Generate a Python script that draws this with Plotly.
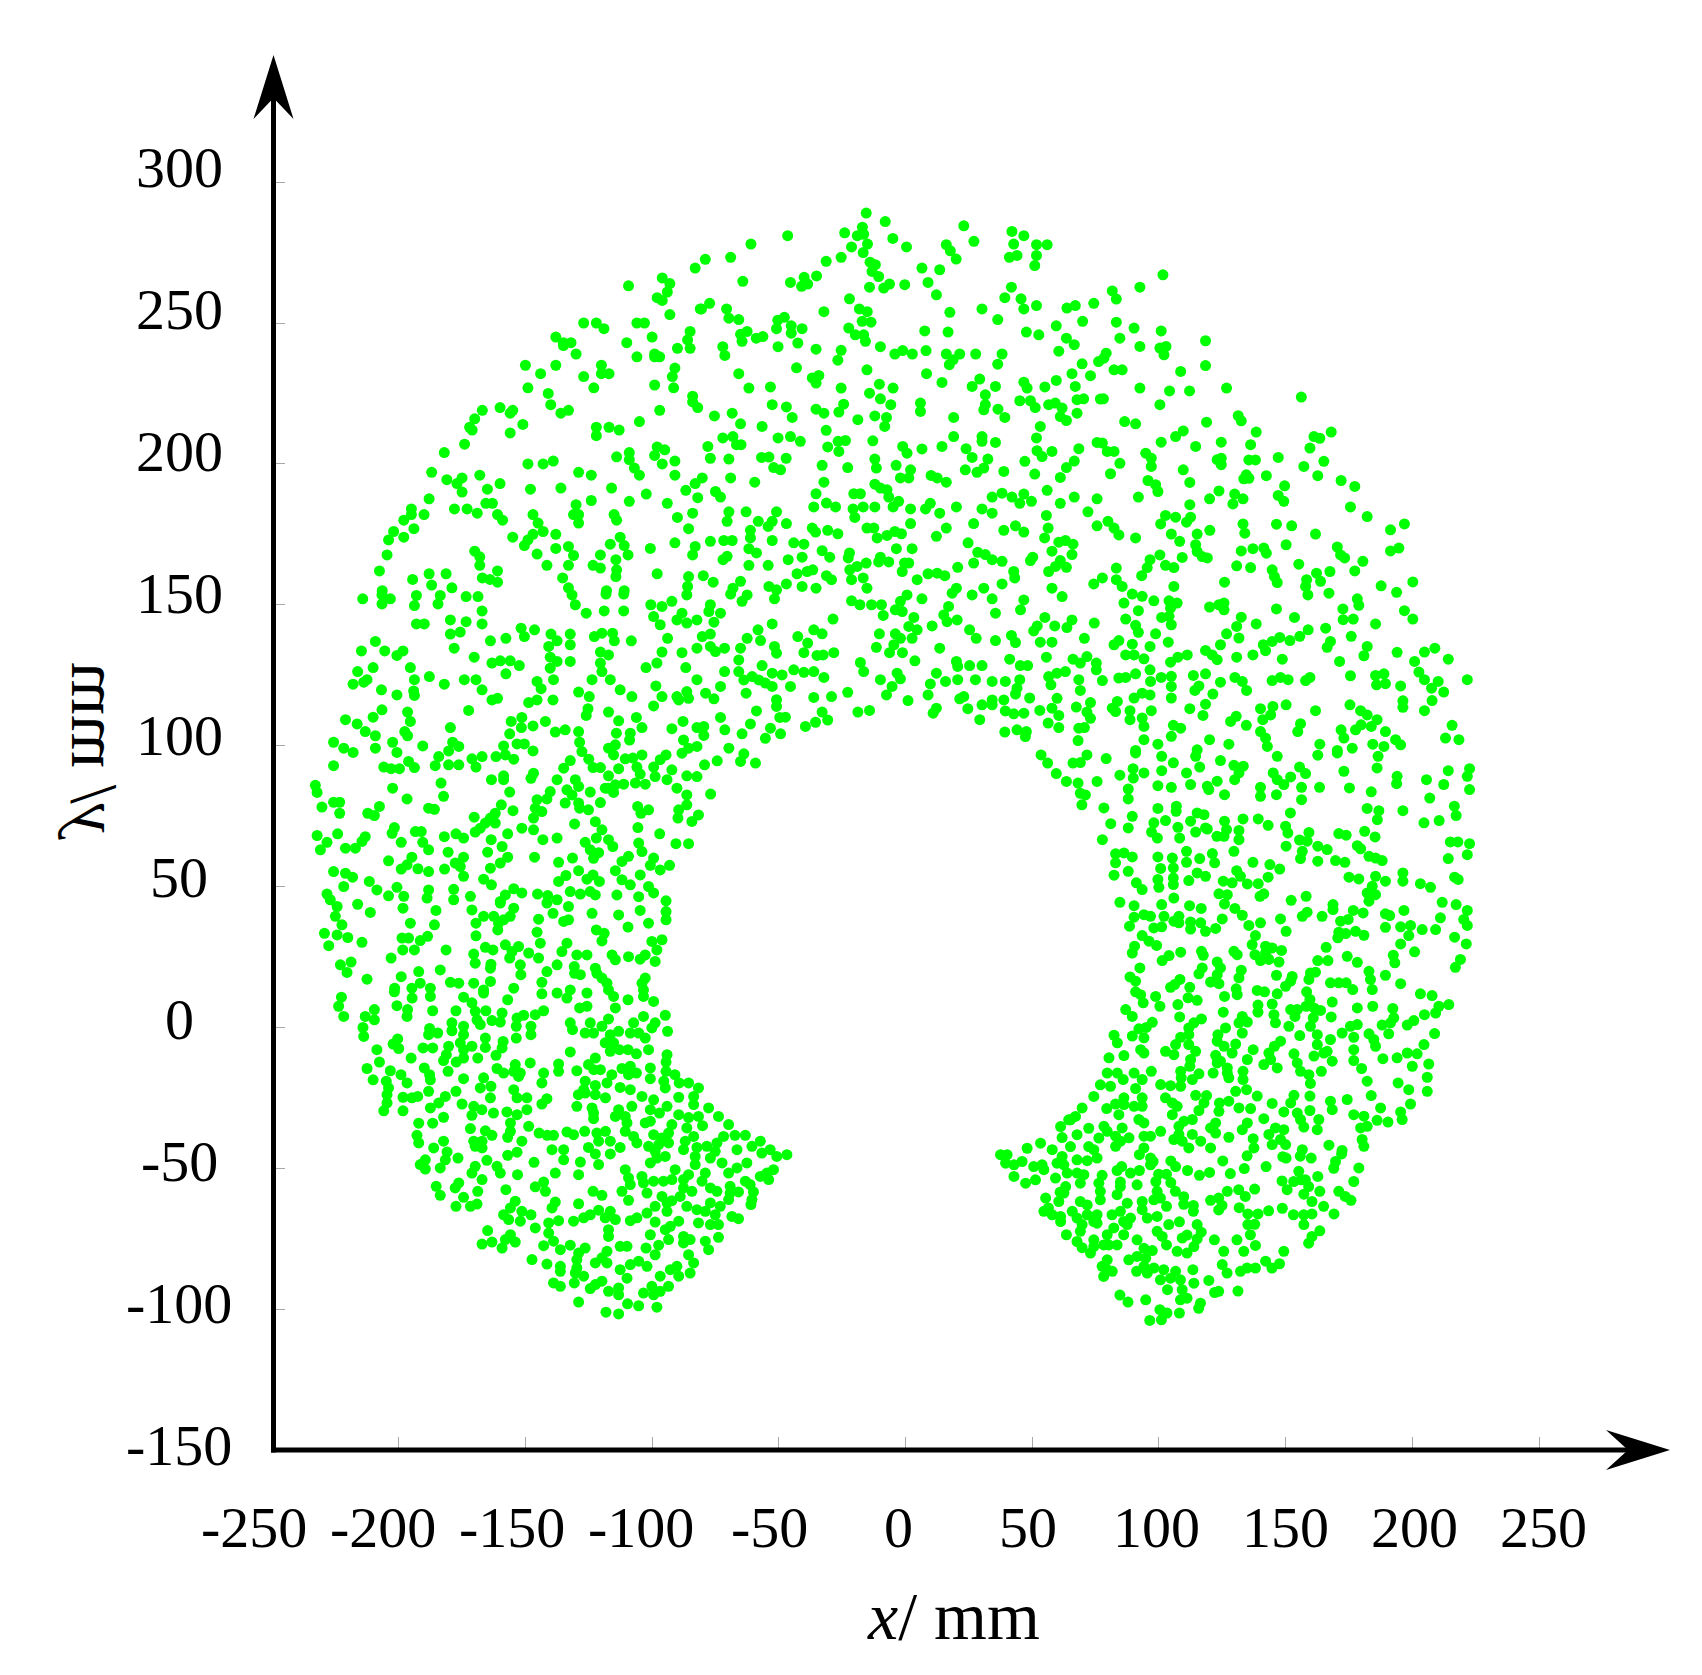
import plotly.graph_objects as go

FIG_W, FIG_H = 1702, 1675
GREEN = "#00FF00"
FONT = "Liberation Serif"

x_tick_vals = [-200, -150, -100, -50, 0, 50, 100, 150, 200, 250]
y_tick_vals = [-100, -50, 0, 50, 100, 150, 200, 250, 300]
x_tick_labels = ["-250", "-200", "-150", "-100", "-50", "0", "50", "100", "150", "200", "250"]
y_tick_labels = ["300", "250", "200", "150", "100", "50", "0", "-50", "-100", "-150"]

pts_nw = [(-109.3,263.2),(-96,266),(-93,264),(-94,261),(-83,269.5),(-98,259),(-96,258),(-93,253),(-81,255),(-106,250),(-103,250),(-127,250),(-122,250),(-119,248),(-110,243),(-100,245),(-138,245),(-135,243),(-132,243),(-135,242),(-130,239),(-106,238),(-99,239),(-97,238),(-99,238),(-90,241),(-85,247),(-86,244),(-85,241),(-150,235),(-144,232),(-138,235),(-120,235),(-120,232),(-117,232),(-127,231),(-123,227),(-149,227),(-141,225),(-91,234),(-92,231),(-99,228),(-91.5,227),(-84,224),(-84,222),(-82,220),(-140,221),(-136,218),(-133,219),(-97,219),(-105,215),(-167,219),(-160,220),(-155,219),(-156,218),(-151,214),(-156,211),(-170,216),(-172,213),(-171,212),(-122,213),(-122,210),(-117,213),(-113,212),(-174,207),(-182,204),(-109,204),(-109,201.5),(-107,198.5),(-105,196),(-98,206),(-99,203),(-95,205),(-96,200),(-91,201),(-114,202.5),(-149,200),(-143,200),(-139,201),(-129,197),(-124,196),(-91,196),(-187,197),(-168,196),(-181,194.4),(-175,195),(-177,193),(-175,190),(-160,193),(-165,191),(-148,191),(-136,191.4),(-116,191.4),(-102.3,189.3),(-86.7,190.6),(-83,193),(-82,188),(-188,187.6),(-165.6,186),(-163,186),(-124,187),(-109,186.7),(-94,186),(-130,185.5),(-131,182),(-129,182),(-129,179),(-147,182),(-145,179),(-143,176),(-115,182),(-114,180),(-90,181),(-84,182.5),(-85.6,177),(-195,184),(-195,182),(-190,182),(-178,184),(-173,184),(-169,182.5),(-161,182),(-159,180),(-198,180),(-194,177),(-202,176),(-204,173),(-198,174),(-155,174),(-147,175),(-149,173),(-150.4,171),(-138,175),(-138,170),(-112.6,174),(-111,171),(-116.5,171.5),(-91,172),(-83,170.7),(-84,167.7),(-100.7,170),(-170,169),(-168,167),(-168,164),(-145.4,168),(-133,170.7),(-131,167.5),(-133,164),(-120.4,167.7),(-123.3,164),(-120.4,163),(-114.3,166),(-114,162.4),(-114.3,160),(-109.5,167.7),(-141.5,164),(-204.6,167.7),(-207.6,162),(-188,161),(-181.3,161),(-194.5,159),(-161,162),(-167,159.5),(-164,159),(-161,158),(-135.3,159.5),(-98,161),(-85.6,160),(-187,157),(-179,156),(-133,156),(-206.5,155),(-118,155),(-111,155),(-86,156.5)]

pts_n = [(-15.5,289),(-8,286),(23,284.5),(42,282.5),(46.7,281),(42.7,278),(-46.5,281),(-61,278),(-24,282),(-17,284),(-19,281),(-16.5,281.5),(-5,280),(0.4,277),(-21.3,277),(-15,278),(-16.7,275),(16.1,277.8),(17.7,275.6),(20,272.7),(27,279),(51.7,277.8),(55.9,277.8),(51.7,274),(51,270.4),(44,274),(41,273.3),(-79,272.6),(-69,273.3),(-31.3,271.9),(-25.4,273.3),(-14,271.6),(-11.9,270.7),(-13.2,268.3),(-10.6,266.5),(6.5,269.5),(13.5,268.9),(-64.2,264.8),(-45.4,264.4),(-40,266.2),(-35.1,266.7),(-41,263),(-38.6,263.8),(-14.2,262.7),(-8.6,262.4),(-6.3,263.8),(-0.3,263.6),(8.9,264.4),(12.2,260),(41.8,262.7),(39.2,259),(45.6,258.6),(46.7,255),(51.7,256.2),(-22.1,258.6),(-77.3,257),(-80.5,255),(-70.6,255),(-69.7,251.7),(-65.8,251.2),(-32.2,254),(-18.2,255),(-15.1,254),(-17.1,250.6),(-13.6,250.3),(17.5,253.8),(30.2,255),(36.4,251.2),(63.7,255.3),(67,256.2),(74.3,257),(69.9,250.6),(-47.8,252),(-50.4,251),(-50.9,248),(-45.1,249),(-40.8,248),(-45.1,246.4),(-42.5,242.9),(-22.4,248.2),(-19.8,245.8),(-16.5,245.8),(-15.8,243.5),(7.6,247.2),(16.8,246.8),(47.7,246.8),(52.6,245.8),(59.5,249),(63.5,244.6),(66.6,242.3),(60.5,240),(-62.5,247),(-65.1,246),(-64.5,243.5),(-58.9,244.6),(-56.3,245.2),(-50.3,241.6),(-72.1,241.6),(-71.3,238.5),(-35.3,240.7),(-25.4,240.3),(-26.7,236.8),(-9.9,241.6),(-4.2,239),(-1.1,240.2),(2.7,239),(8.1,240.2),(16.1,239),(21.4,239),(18.8,237),(17.3,235.2),(27.7,239),(38.1,239),(36.4,235.4),(69.7,235.5),(76.2,236.3),(-43,234.1),(-15.2,233.4),(-65.8,232),(8.3,232),(-34.2,231.4),(-36.8,230.5),(-35.3,228.7),(14.4,228.9),(29.3,230.1),(26.3,227.5),(35.5,227.5),(31.5,224.5),(46.7,229),(48,226.9),(55,227.3),(59.5,229.6),(65.7,232),(73,231.3),(67,227.5),(-61.8,226.9),(-53.3,227.3),(-25.4,226.9),(-10.3,228.3),(-4.9,226.9),(-14.2,225.1),(-9.9,223.1),(-5.8,221),(5.9,221.6),(5.9,218.6),(31.5,221),(30.9,219.2),(36.5,219.4),(39.2,216.5),(45.1,222.4),(49.3,222.4),(51.2,220),(56.5,221),(59.1,221.6),(61.8,219.8),(61.1,216.8),(63.5,215.4),(67.7,222.8),(70.3,223.1),(67.7,218),(76.9,223),(-52.6,221),(-47,220.2),(-44.7,216.5),(-35.3,219.4),(-32.2,218),(-24.4,221.2),(-26.3,218.4),(-18.8,215.7),(-12.1,217),(-7.5,216.5),(-8.2,213.3),(19,216.5),(-75.4,217),(-68.4,218),(-65.1,214.2),(-56.6,213.3),(-31.3,211.9),(53.2,213.3),(51.7,209.2),(-72.1,209.2),(-68.1,209.7),(-66.7,206.8),(-64.9,206.8),(-50.3,209.2),(-45.4,209.7),(-41.5,208),(-26.6,208),(-23.7,208.3),(-30.7,206),(-26.3,204.4),(-12.9,208.2),(19,209.7),(30.2,209.7),(30.2,208),(35.5,207.6),(75.6,207.6),(-78,206.2),(-77,202),(-69.7,201.7),(-1.1,206.2),(0.6,203.8),(6.5,205.3),(14.4,206.2),(23.9,205.4),(26.3,202.3),(51.9,204.7),(53.9,202.6),(57.8,204.4),(68.4,205.4),(-56.8,202.3),(-53.9,202.4),(-47.1,202),(-12.1,201.7),(-11.5,198.5),(-32.9,199.5),(-22.8,198.7),(-52,198.7),(-49.3,197.9),(-3.7,199.5),(2,197.9),(32.5,201.7),(30.9,198.5),(23.6,197.9),(28.2,197),(38.8,197.3),(47.1,200.9),(51,196.4),(66.6,201),(63.5,198.7),(61.1,195.2),(-69,195),(-80.2,195),(-59.5,193.5),(-32.2,193.5),(-2,195),(1.3,195),(10.1,195.9),(12.5,195),(16.1,193.5),(-12.1,192.8),(-9.9,191.4),(-7.3,190.8),(-75,190.2),(-73,188.2),(-35.3,189.4),(-20.4,189.4),(-17.8,189.4),(-6.6,188.2),(34.2,188.2),(38.1,189.6),(42,188.2),(46.7,189.3),(55.9,190.6),(66.6,188.2),(75.6,187.6),(-31.2,186.1),(-27.6,184.7),(-36.2,184.7),(-16.7,184.7),(-20.7,184),(-12.1,184.7),(-2.7,186.7),(-4.9,184.7),(2,184),(9.8,186),(7.9,184),(20.1,184.7),(45.1,186),(49.7,186.7),(61.1,186),(-69.7,183),(-62.9,183),(-50.9,183),(-20,181),(13.5,182.5),(30.2,184),(34.2,182.5),(72,183),(55.6,181.7),(-70.4,179.6),(-58.1,179.6),(-52.6,179.6),(-54.2,177.8),(-47,178.8),(2,178.8),(26.9,178.8),(-15.2,177.2),(-12.5,177.2),(-36.8,177.2),(-35.5,175.8),(-30.7,176.4),(-26.7,175.2),(16.1,177.2),(38.8,176.4),(43.4,178),(46.7,175.8),(75.6,178),(56.3,177.2),(-61.2,176.4),(-11.2,173.7),(-7.3,174.6),(-4.2,176),(-1.6,175.2),(12.2,174.3),(54.9,173.7),(-77,172.5),(-71.7,172.8),(-68.4,172.8),(-61.2,173.7),(-52.6,172.8),(-44.1,172),(-40.1,171.5),(24.7,172),(60.5,172.2),(63.1,172.8),(66.1,171.5),(-61.8,169.9),(-58.8,168.4),(-32.9,169.2),(-29.9,166.9),(-22.1,168.4),(-22.6,166.6),(-3.6,169.9),(2.6,169.9),(28.5,168.6),(31.5,167.8),(34.2,166),(38.1,165.4),(57.8,169),(65.7,167.8),(-70.4,167.2),(-72,166),(-46.3,166),(-40.8,166.9),(-9.9,166.9),(-10.6,165.2),(-6.6,165.2),(50.2,166.9),(49.3,165.7),(-61.8,164),(-54.2,164),(-19.1,163.6),(-15.5,164.8),(-0.4,164.8),(1.3,164.8),(26.9,164.8),(61.1,165.7),(59.2,163.6),(20.6,163.3),(63.5,163.3),(-22,162.4),(-1.3,161.8),(-42.8,161),(-38.8,161.8),(-36.6,162.4),(8.9,161),(12.5,161.2),(15.5,160.3),(56.5,161.8),(42.7,161.8),(43.1,159.5),(-79.8,160.3),(-75.9,158),(-65.1,158.3),(-31.2,160.3),(-29.2,158.9),(-21.3,158.9),(-16.7,159.5),(4.6,158.9),(74.3,157.4),(-53.9,156.5),(-47,157.4),(-40.8,156.5),(-35.3,155.9),(-68.1,155.9),(-50.9,155.3),(-15.2,155.9),(20.1,155.9),(30.9,155.9),(38.1,157.4),(57.8,155.9)]

pts_ne_top = [(101.6,267.1),(92.5,262.7),(81.6,261.4),(83.2,258.5),(83.2,250.3),(90.2,248.2),(100.9,247.2),(118.4,243.7),(84.6,244.6),(92.5,241.7),(100.4,241.1),(102.8,241.7),(79.2,239.3)]

pts_ne = [(78.3,237.5),(102,238.7),(82.3,233.4),(85.5,233.4),(108.6,232.8),(118.4,234.9),(92.5,226.9),(104.2,225.9),(112.1,225.9),(126.7,226.9),(156.2,223.7),(78.1,223.1),(100.4,221),(86.5,215),(90.8,214.2),(118.8,214.8),(131.3,217.1),(132.5,215.3),(138.4,211.3),(161.2,209.7),(163.5,209.1),(168,211.3),(109.6,211.7),(106.6,209.7),(100.9,207.7),(124.6,207.7),(136.2,206.8),(114.5,206.2),(159.6,205.6),(77.7,207.4),(79.6,204.4),(82.3,204.4),(94.8,203.8),(97,202),(123,201.5),(124.6,202),(124.6,199.7),(135.5,201.4),(138.1,201.4),(147.1,202.3),(165.1,200.9),(84.6,200.2),(97,199.1),(157.2,199.1),(109.6,197.9),(80.9,196.5),(162.7,195.8),(134.5,196.1),(133.5,194.7),(135.5,194.9),(142.4,195.8),(171.9,194.1),(177.3,192),(95.7,194.1),(98.7,192.6),(99.6,190.2),(112.2,193.4),(149.6,192.2),(123.7,190.4),(147.1,188.8),(129.9,189.3),(133.2,187.6),(129.2,185.8),(149.3,186.7),(91.9,188.2),(120,187.6),(175.6,184.7),(112.2,185.5),(182.2,181.3),(102.6,181.7),(106.6,181.1),(112.5,181.1),(110.9,179.3),(100.7,178.7),(79.9,179.6),(82.3,177.2),(84.2,174.8),(133.2,178.7),(133.9,175.4),(146.4,178.6),(152.4,178),(161.8,175.1),(196.9,178.7),(191.4,176.6),(120.1,176.4),(115.1,175.1),(90.8,173.7),(104.9,175.1),(108.2,172.5),(150.2,171.3),(170.4,170.5),(194.7,170.1),(191.4,169.1),(114.5,171.3),(115.1,168.9),(117.1,167.1),(119.1,166.6),(132.5,169.1),(137.1,169.9),(141.4,170.1),(142.4,168.3),(171.7,167.7),(173.3,166.6),(100.4,167.7),(96.5,166),(109.2,166.8),(95.4,163.2),(102.6,164),(105.9,163.2),(180.5,165.4),(155.2,164.4),(130.7,163.8),(136.2,163.2),(83.2,163),(144.7,162.4),(177.3,162),(162.2,161.2),(167.5,161.8),(93.2,160.3),(77.7,159.5),(83.2,158.9),(145.6,160),(158.3,158.9),(163.8,158.3),(146.7,157.9),(125.9,158),(85.5,156.5),(105.9,156.5),(187.7,156.7),(200.2,158.1),(193.8,154.4),(157.9,156.5),(158.8,153.5),(167.1,154.1),(89.5,153.8),(93.4,153),(86.2,150.6),(98,151.4),(104,151.4),(107.2,150.6),(178.3,152.1),(178.9,149.8),(125.7,150.6),(123.7,150),(125.7,148.2),(120,149.2),(91.9,147.9),(104.6,148.8),(146.4,148.5),(172.6,148.5),(196.9,147.9),(200.2,144.9),(86.9,144.9),(101.1,145.5),(104,145.9),(132.5,145.6),(153.5,145.5),(172.7,144.7),(176.7,144.9),(138.4,143.2),(104.9,142.9),(130.7,142.3),(185.5,143.2),(90.8,142.7),(91.9,140.2),(165.8,141.7),(158.9,141.1),(98.7,139.7),(126.7,139.7),(155.6,138.8),(175.9,138.8),(131.6,138.2),(147.7,138.4),(151.7,137.3),(144.7,137),(103.7,136.7),(84.2,137.3),(82.3,135.8),(89.5,136),(96.5,135.2),(124.3,135.8),(141.2,135.8),(167.7,137),(166.4,134.9),(182.2,135.2),(208.9,134.6),(204.8,133.2),(194,133.1),(142.1,133.7),(118.4,133.8),(86.9,132.2),(90.2,132.2),(121,132.2),(123,130.5),(111.2,132.2),(107.5,131.4),(104.6,129.6),(94.1,130.8),(130.7,131.4),(137.1,132.2),(148.7,130.7),(180.9,131.9),(171.3,129.9),(200.9,129.9),(214.2,130.7),(96.5,126.9),(202.6,126.1),(90.8,125.5),(84.2,124),(86.9,124.2),(113.6,124.9),(118.4,125.5),(175.6,124.8),(130,124.2),(132.9,122.8),(148,124.2),(144.7,123.1),(151,123.4),(159.6,124.2),(157.9,123.1),(188.8,125.5),(185.5,124.9),(77.7,123.1),(96.7,122.8),(100.9,124.2),(104.9,124.6),(104.9,121),(221.7,123.4),(124.3,122.5),(185.9,121.6),(189.4,122),(204.8,123.4),(210.2,122.8),(195.4,121.2),(115.8,121.2),(114.2,119.6),(207.6,120.4),(212.4,119),(134.6,119.6),(121.3,118.3),(93.4,118.6),(96.5,118),(90.2,116.9),(104.9,116.9),(207.8,116),(196.3,115.9),(83.6,115.7),(81.6,113.3),(82.9,112.1),(118.4,114.7),(150.2,114.5),(175.4,114.5),(196.3,113.6),(140.1,113.1),(145,113.9),(112.2,113.1),(88.6,112.4),(97,112.4),(161.8,112.4),(204.8,112.4),(179.6,112.4),(182.2,110.9),(130.5,110.4),(128.3,108.6),(144.1,110.9),(141,109.2),(117.4,110.7),(88.6,109.2),(93.4,109.8),(94.1,106.8),(186.1,109.2),(183.8,106.8),(179.8,107.4),(177.6,105.6),(155.9,107.8),(154.8,105),(171.9,105.6),(173,102.7),(189.4,105),(134.5,107.2),(215.7,107.2),(105.7,107.2),(108.6,106.2),(140.1,105),(104.9,103.3),(213.1,102.7),(218.4,102.1),(193.4,102.1),(195.4,100.3),(94.1,102.1),(142.1,102.7),(120,102.1),(127.6,100.5),(99.6,100.5),(163.5,100.5),(184.4,100.5),(142.8,99.7),(115.1,98.5),(188.8,99.7),(170.4,98.3),(90.8,98.3),(176.3,99.1)]

pts_w = [(-214.2,152.1),(-206.6,153.5),(-203.3,152.1),(-206.6,150.3),(-193,153.3),(-193.8,149.7),(-183.6,153.3),(-184.5,150.3),(-173.4,152.9),(-168.7,152.9),(-167.1,147.8),(-167.1,143.2),(-193,143.2),(-189.9,143.2),(-179.6,144.6),(-173.4,144),(-175.7,140.3),(-179.6,139.6),(-178.1,134.6),(-163.8,137.2),(-157.7,138.1),(-151.7,141.7),(-150.4,138.7),(-146.4,141.1),(-139.9,139.6),(-137.5,137.2),(-140.8,135.2),(-132.3,139.6),(-132.3,135.8),(-122.8,138.7),(-119.8,139.9),(-115.6,139.9),(-114.9,137.2),(-108.2,137.2),(-93.9,138.1),(-131.6,153.5),(-130.3,150),(-126,147),(-118.9,147.8),(-111.2,147.8),(-118.2,153.8),(-111.2,153.8),(-100.5,150),(-96.1,149.4),(-99.4,145.8),(-96.8,142.9),(-92.2,151.2),(-86.3,153.5),(-90.2,144.6),(-88.2,147),(-86.3,143.5),(-82.3,144.6),(-209.2,137),(-214.7,133.6),(-205.5,133.6),(-200.7,132),(-198.3,133.6),(-170.2,131.4),(-120.4,133.2),(-117.2,132.2),(-120.4,129.3),(-119.8,126.3),(-140.2,131.4),(-137.5,129.9),(-140.2,127.5),(-138.9,123.4),(-132.3,129.9),(-96.1,133.2),(-98.1,129.3),(-102.4,127.7),(-88.2,133),(-86.7,127.7),(-82.3,134.6),(-216.2,126.3),(-210.1,127.7),(-195.4,127.7),(-163.2,129.3),(-159.9,130.1),(-156,130.1),(-152.4,128.4),(-157.7,125.5),(-218,121.8),(-212.5,123.4),(-213.8,122.5),(-193.8,123.4),(-187.9,124.5),(-182,121.8),(-174.1,123.4),(-169.5,123.4),(-167.1,119.8),(-145.4,122.8),(-143.8,120.2),(-123.7,123.4),(-116.5,123.4),(-112.6,119.8),(-129,119),(-124.8,117.4),(-108,117.4),(-98.5,121.2),(-96.1,117.4),(-99.4,114.1),(-90.2,117.4),(-86.3,119.2),(-85.6,116.8),(-89.5,116.2),(-82.3,123.4),(-206.8,119.8),(-200.7,118),(-194.1,119.4),(-193.8,117.8),(-163.2,116.2),(-161,116.8),(-148.7,115.3),(-145.4,116.2),(-139.1,116.2),(-125.3,113.1),(-126,110.7),(-117.2,111.9),(-113.2,108.8),(-106.2,110),(-104,106.4),(-206.6,112.7),(-210.1,110.1),(-221,109.2),(-216.4,107.7),(-196.5,111.9),(-195.4,108.6),(-172.4,112.5),(-179.6,106.4),(-155.6,108.6),(-151.4,110),(-151.6,106.4),(-147,107),(-142.1,108.6),(-138.2,104.8),(-134.3,105.6),(-129,105),(-128.6,101.2),(-127.7,97.9),(-87.8,108.6),(-92.2,106),(-82.3,106.4),(-213.2,105),(-209.2,103.5),(-197.6,105),(-196.5,103.5),(-156.2,104.2),(-114.1,104.4),(-108.6,104.4),(-108.9,102),(-225.7,101.2),(-221.7,99.1),(-218,97.6),(-202.4,101.2),(-209.2,99.1),(-200.7,97.6),(-190.5,99.9),(-178.7,101.2),(-180.3,98.1),(-176.3,99.7),(-158.6,99.9),(-153.3,100.6),(-150.4,100.6),(-147,98.1),(-117.2,99.1),(-114.5,100.3),(-115.2,96.7),(-87.6,102),(-88.2,97.3),(-85.6,99.1),(-82.3,99.7),(-94.5,96.7),(-96.8,95),(-104,96.7),(-110.6,95.3),(-107.6,95.6),(-167.1,96.1),(-171.1,95.3),(-169.5,92.4),(-184.2,96.1),(-185.6,92.9),(-180.3,93.2),(-176.3,93.2),(-161.6,96.1),(-157.9,96.7),(-154.6,95.2),(-196.1,94.4),(-193.8,92.2),(-225.7,92.9),(-205.9,92.4),(-203,91.8),(-199.7,91.8),(-132.3,94.7),(-134.9,92),(-137.5,87.9),(-125,95.2),(-123.3,92.2),(-120.4,92.2),(-113.2,91.8),(-117.2,89.3),(-106,92.4),(-104.7,89.9),(-99.4,92.4),(-98.8,89),(-92.2,91.4),(-94.1,87.9),(-86.3,89.3),(-82.3,89),(-158.6,89.3),(-163.4,87.9),(-158.6,87.9),(-146.8,90.2),(-147.8,88.4),(-130.3,87.9),(-129,85.5),(-117.4,84.9),(-114.5,86.1),(-111.2,86.3),(-118.5,84.9),(-106.6,86.7),(-102.7,86.3),(-90.2,84.9),(-232.9,85.9),(-232.2,83.4),(-202.4,84.9),(-183.3,86.7),(-182.3,82),(-156.2,83.5),(-133.6,84.3),(-131.6,82.5),(-124.4,83.5),(-115.2,83.4),(-140.2,83.7),(-141.5,81.1),(-86.3,82.5),(-230.3,78.2),(-225.7,79.9),(-223.3,79.9),(-223.3,76),(-196.7,81.1),(-207.6,78.4),(-209.6,75.2),(-212.2,76),(-188.2,77.8),(-185.9,77.4),(-159.5,79),(-154.9,76.9),(-145.4,80.8),(-146.1,77.8),(-143.5,76.6),(-134.3,79.6),(-129,79.6),(-128.6,77.8),(-125.1,77.2),(-120.4,79.8),(-105.7,78.4),(-101.4,77.2),(-104.4,76),(-89.5,77.2),(-89.8,74.3),(-86.3,79),(-84.3,73.1),(-81.7,75.4),(-170.2,74.6),(-161.9,76),(-163.8,74.3),(-165.8,72.5),(-161.9,72.5),(-167.8,70.7),(-169.8,69.3),(-146.8,74.3),(-130.6,72.2),(-122.4,73),(-151.4,70.7),(-146.8,70.1),(-119.8,70.1),(-105.6,70.9),(-201.7,70.9),(-202.6,68.9),(-193.4,69.5),(-191.1,69.5),(-177.4,68.7),(-174.4,67.2),(-182,67.7),(-157,68.7),(-232.2,68.1),(-224.1,68.7),(-213.2,67.7),(-214.5,66),(-217.1,63.6),(-221,63.6),(-228.3,65.7),(-230.9,63),(-97,68.7),(-137.5,67.2),(-143.1,66.6),(-122,67.2),(-117.2,66.6),(-126.4,65.7),(-115.5,64.2),(-163.5,66.6),(-159.2,64.2),(-199,65.7),(-190.5,65.7),(-188.2,63),(-90.6,65.2),(-85.6,65.2),(-105.3,65.4),(-104,62.4),(-124.4,63),(-123.1,60),(-121.1,62),(-164.9,62.2),(-180.5,62.2),(-146.4,60.4),(-157,60.4),(-159.9,58.3),(-194.8,60.4),(-174.4,60.4),(-204,59.1),(-196.7,57.7),(-177.7,58.3),(-175.7,57.1),(-131.4,60.1),(-136.9,58.6),(-109.3,60.7),(-111.9,58.9),(-99.4,60.1),(-100.7,57.5),(-93.1,57.5),(-96.8,55.9),(-192.4,56.3),(-188.2,55.3),(-199,56.2),(-181.9,56.2),(-129,55.6),(-114.5,55.6),(-225.7,55.3),(-221,54.7),(-218.2,53.3),(-163.8,56.5),(-166.5,52.6),(-163.4,50.6),(-174.4,53.6),(-134,53.9),(-136.9,51.8),(-125.7,52.6),(-123.3,54.1),(-120.8,51.8),(-111.9,52.4),(-104.7,54.1),(-101.4,50),(-211.6,51.8),(-221.7,50),(-208.6,48.8),(-200.7,49.7),(-188.2,48.8),(-178.3,49),(-178.3,45.3),(-154.6,49.2),(-157.9,47),(-159.9,44.7),(-151.4,47.7),(-145.2,47.3),(-141.2,46.8),(-137.5,45.3),(-132.3,48.2),(-128.3,47.3),(-124.4,48.2),(-122.4,47),(-113.9,47),(-108.6,50.6),(-105.3,46.4),(-99.4,47.7),(-228.3,47.3),(-227,45.3),(-204,46.7),(-198,46.5),(-188.8,45.9),(-171.7,46.5),(-198.3,42.3),(-216.2,43.7),(-211.2,40.8),(-224.3,42.9),(-225,39.4),(-185.3,41.5),(-171.1,41.7),(-159.9,44.1),(-154.6,42.3),(-141.5,44.1),(-139.1,40.5),(-133,42.9),(-123.7,40.5),(-113.2,39.9),(-104.7,41.5),(-94.5,44.9),(-94.5,41.1),(-94.5,38.2),(-166.5,39.4),(-162.5,39.4),(-156,39.4),(-158.6,38.2),(-169.5,37),(-160.6,37),(-144.8,38.4),(-134.9,37.6),(-133,38.2),(-222.4,36.4),(-195.4,37),(-185.9,36.4),(-109.5,35.6),(-101.4,37),(-229.3,33.4),(-224.3,32.8),(-220.1,31.9),(-214.5,30.2),(-227.6,29),(-160.9,34.6),(-145.4,33.8),(-169.5,32.5),(-122,34.6),(-118.9,33.4),(-119.8,30.7),(-198.7,31.7),(-196.1,31.7),(-188.6,32.3),(-191.5,30.8),(-100.1,30.5),(-96.1,31.1),(-98.1,27.5),(-157.9,29.3),(-152.7,28.7),(-144.1,29.9),(-133.6,29.9),(-165.8,28.4),(-162.8,27.5),(-198.4,27.5),(-193.8,27.5),(-181.3,27.5),(-155.3,26.9),(-148.7,26.4),(-135.6,26.9),(-129.7,25.7),(-125.7,25.7),(-115.8,25.7),(-109.3,25.1),(-102.7,25.7),(-203,24.6),(-170.4,26),(-169.8,22.8),(-156.2,24.6),(-144.8,24.6),(-114.5,24),(-104.7,24.2),(-98.8,23.4),(-223,22.2),(-218.8,23.2),(-220.4,19.5),(-163.6,22.4),(-163.8,21),(-152,22.2),(-137.5,22.2),(-130.7,21.6),(-122.4,21),(-192.1,19.8),(-183.6,20.4),(-141.5,19.8),(-130.6,19.2),(-121.8,19.2),(-119.8,17.5),(-199,18),(-212.5,17.1),(-151.8,18.7),(-128.3,18.7),(-179.6,16),(-176.3,15.7),(-170.4,15.7),(-163.8,16.3),(-143.5,16),(-102.7,17.5),(-104,15.7),(-117.8,15.7),(-201.6,13.9),(-194.8,13.9),(-191.5,15.7),(-187.5,13.9),(-166.5,13.3),(-154.6,13.9),(-132.3,13.3),(-117.2,13.3),(-103.4,13.3)]

pts_arch = [(-69,153.8),(-64.5,151.2),(-62.5,153.5),(-51.7,152.1),(-77,150),(-73,147),(-77.6,147.6),(-75.6,143.8),(-52.6,143.2),(-28.6,144.9),(-58.2,141.1),(-62.5,138.1),(-57.2,137.3),(-36.2,141.1),(-32.9,139.7),(-42.5,138.7),(-77,139.6),(-80.2,138.7),(-65.1,134.6),(-77,135.2),(-75,133.4),(-71.4,134.6),(-38.6,136.4),(-40.1,133),(-51.7,135.2),(-50.9,132.8),(-28.3,133),(-34.9,132),(-32.5,132.2),(-65.8,130.4),(-65.8,126.3),(-56.6,128.4),(-71.4,126.3),(-52.6,125.7),(-48.7,125.1),(-44.1,126.9),(-40.1,126),(-36.2,126.3),(-63.8,123.3),(-60.5,124.5),(-57.9,123.3),(-55.3,122.2),(-52.6,121),(-32.2,124.2),(-45.4,121),(-73,121),(-62.9,118.6),(-78.9,118.6),(-75.6,116.6),(-50.9,116.3),(-50.9,113.9),(-36.2,117.1),(-29.2,117.4),(-22.8,118.9),(-58.8,112.3),(-73,110),(-32.9,111.9),(-49.6,110),(-47.4,110.1),(-30.7,109.1),(-61.2,107.7),(-35.5,108.3),(-39.5,106.8),(-79.6,106.8),(-71.3,105.6),(-64.5,104.2),(-53.3,106.2),(-55.3,102.6),(-49.3,104.2),(-79.6,103.6),(-69.7,99.1),(-63.8,97.1),(-65.1,94.4),(-59.2,93.8),(-74.3,94.6),(-79.3,93.2),(-76.9,82.8),(-21.3,151.4),(-18,150),(-13.4,150),(-9.5,150),(-8.8,146.2),(-4,148.2),(-2,151.2),(0.6,153.5),(6.5,152.1),(-1.3,147.6),(3.3,145.5),(1.3,142.3),(4.6,141.1),(2.6,138.1),(-10.3,139.7),(-4,139.7),(-2,138.1),(-4.6,135.8),(-11.5,134.9),(-6.3,133),(-1.2,133),(3.7,130.1),(13.5,134.6),(10.5,142.5),(15.1,146.4),(17,149.4),(16.4,144),(20.4,144.6),(25.3,141.1),(27.9,138.1),(35.5,137.3),(35.5,147),(26.3,153.5),(34.2,152.1),(18.4,154.1),(46.7,151.7),(45.4,148.2),(55,145.5),(52,142.5),(58.9,142.5),(50.6,140.7),(63.7,141.9),(65.7,144.6),(74.5,143.5),(70.6,138.1),(61.8,152.9),(41.8,139.1),(43.4,136.6),(53.2,136.7),(57.8,136.7),(55.6,131.4),(41.1,130.7),(20.1,129.9),(20.6,128.1),(25.3,128.4),(30.2,128.4),(45.3,128.4),(48.2,128.4),(66.1,130.7),(69,129.3),(71.6,131.6),(75.3,129.3),(75.3,126.9),(-17.8,129.5),(-16.5,126.3),(12.2,125.7),(9.8,121.9),(15.8,122.8),(20.6,123.4),(27.6,123.4),(34.2,122.8),(39.4,122.8),(45.1,123.4),(44,120.4),(43.4,118.3),(63.1,126.3),(59.8,125.7),(56.5,124.5),(57.4,121.6),(68.4,123.4),(69,119.6),(-3.3,125.7),(-2,123.7),(-9.9,123.4),(-5.3,121),(-7.5,118),(1,116),(8.9,118),(23,117.4),(21.4,116.6),(34.2,116.2),(34.2,114.5),(38.8,116.2),(49,116.9),(59.8,116.8),(73,115.3),(30.2,114.5),(24.6,113.1),(12.2,113.3),(10.9,111.5),(39.4,112.3),(42.7,111.3),(46.7,111.5),(53,112.5),(57.8,113.3),(60.5,110.7),(67.4,113.7),(71.6,111.9),(-18.8,111.9),(-14.2,112.5),(29.3,109.2),(56.3,108),(60.5,106.4),(68.4,106.2),(70.6,106.4),(73,109.7),(39.2,104.8),(44,105.6),(47.7,105),(47.3,103.2),(68.1,101.8),(53.5,96.7),(56.1,93.8),(71.6,96.7),(66.1,93.8),(69,94),(59.5,90.1),(63.5,87.3),(68.1,86.7),(75.6,87.3),(71,82.5),(69,83.1),(69.6,79)]

pts_e_upper = [(79.2,95.4),(90.8,97.4),(101.1,96.2),(105.7,93.9),(114.5,96.2),(116.1,92.4),(124.3,94.7),(129.6,93),(133.3,92.7),(146.7,96.2),(155.5,92.4),(162.7,96.6),(170.4,97.4),(186.5,96.2),(186.1,92.1),(84.6,89.5),(89.8,91.8),(94.1,90.3),(89.9,88.5),(101.1,91.1),(110.9,90.3),(112.5,86.2),(99.6,85.8),(104.9,85.2),(119.1,85.6),(123,87.4),(129.9,87.9),(131.6,90.3),(145.1,90.3),(146.7,87.9),(152,88.9),(157.9,90.1),(149.3,86.2),(173,90.9),(194,89.1),(193.8,86.5),(205.6,87.9),(214.2,91.1),(212.4,86.2),(222.6,91.8),(221.7,89.1),(87.9,84.6),(87.9,81.1),(119.7,84.4),(125.9,82.6),(140.1,85.2),(140.1,82),(146.4,82.6),(156.3,85.2),(156.3,80.8),(163.4,85.2),(175.2,85),(183.8,83.6),(222.6,84.4),(78.3,77.9),(99.6,77.7),(106.9,78.5),(89.5,74.9),(106.8,76.7),(115.1,76.1),(117.8,75.5),(182.2,77.7),(186.8,76.9),(196.3,76.9),(206.9,81.4),(216.6,78.5),(217.3,75.2),(151.9,76.1),(81,72.3),(87.9,70.8),(102.6,73.4),(98,72.6),(112.5,73.2),(125.9,73.2),(133.2,74),(139.2,74),(143.1,71.7),(186.2,73.7),(150,71.4),(210.6,73.4),(204.6,72.6),(97.1,69.3),(107.5,71),(118.4,70.8),(114.5,69.3),(126.7,70.2),(131.6,69.9),(150.9,69),(159.2,69.2),(181.2,69.6),(99.4,67.2),(108.2,67.2),(125.7,67.8),(131.6,66.6),(171,68.8),(173.9,68.2),(185.3,67.6),(119.1,70.4),(122.9,67.8),(77.7,66.6),(215,65.8),(218,65.8),(222.6,65.2),(155.5,66.5),(158.5,66.1),(150.2,64.3),(162.7,64.3),(166.4,63.1),(178.3,64.5),(179.6,63.4)]

pts_e_lower = [(129.6,62.5),(82.9,61.6),(86.2,61.9),(89.5,60.5),(110.9,62.5),(121.1,61.7),(105.3,60.1),(99.6,60.5),(116.1,59.9),(110.9,58.6),(122,58.4),(156.6,62.5),(155.9,59.9),(182.9,60.7),(185.5,60.1),(188.1,59.2),(169.7,59.2),(173.4,58.6),(162.7,59),(214.2,59.9),(221.7,61.3),(82.9,58.4),(137.1,58.6),(143.8,57.8),(100.7,56.4),(105.7,56.6),(87.9,55.4),(130.7,55.6),(147.7,56.2),(115.1,54.8),(118.4,53.6),(111.8,52.1),(82.3,54),(99.6,52.5),(105.7,53),(143.1,53.3),(132.2,53.6),(175,53.3),(178.9,52.7),(185.5,53.6),(189.4,51.9),(196.3,54.8),(196.3,51.9),(216.7,53.3),(218.1,52.5),(91.1,51.3),(93.4,48.9),(100,49.7),(105.7,50.7),(125.4,51.9),(128.9,51.3),(134.9,50.9),(139.2,51),(203.2,51),(207.2,49.7),(184.2,50.1),(182.2,47.7),(185.5,47.1),(105.9,45.9),(141.4,47.4),(139.9,46.5),(123.7,47.4),(127,47.1),(158.1,46.5),(152.2,45.1),(182.9,44.8),(211.8,44.4),(84.6,44.4),(90.2,43.2),(101.1,43.6),(125.9,43.8),(112.1,43.2),(116.7,42.2),(168.7,43.6),(217.3,43.6),(196.7,41.5),(221.7,41.5),(130,42.2),(132.9,39.8),(168.7,41.8),(176.7,41.5),(180.6,40.6),(156.6,39.4),(158.5,40.9),(164.4,39.4),(189.4,40.3),(191.1,39.7),(90.2,39.1),(94.1,40),(96.7,39.4),(102,39.4),(107.9,39.4),(88.4,35.9),(107.9,37.1),(105.9,37.7),(125,38.5),(148,38.5),(174.7,38.3),(171.7,37.7),(211.1,38.9),(220.3,38.3),(112.5,37.4),(116.5,37.1),(122.4,35.1),(118.4,34.1),(112.5,34.9),(135.5,36.2),(140.1,37.1),(189.4,35.5),(195.4,35.7),(199.3,36.2),(203.9,34.7),(209.2,34.7),(221.7,36.2),(93.4,32.6),(98,35.3),(101.1,35.7),(150.2,34.1),(171,33.8),(173.7,33.3),(177.6,34.1),(180.9,32.7),(198.6,32.6),(170.6,31.8),(216.7,32),(138.1,32.6),(96.1,30.6),(99.1,29.1),(136.8,29.4),(195.4,29.6),(221.3,29.6),(90.4,28.8),(89.5,26.4),(108.6,26.7),(116.8,27),(129.6,27),(142.1,28.8),(144.7,28.2),(148.4,27.3),(142.1,26.4),(166,28.4),(200.9,26.8),(104,25.5),(101.3,23.7),(117.5,25.6),(130.9,25.8),(137.9,25.8),(140.1,23.7),(143.4,24.1),(147.4,23.2),(174.3,25.2),(162.7,23.7),(166.7,23.7),(178.3,23.1),(192.5,25.6),(193.1,22.9),(219,24.1),(217,21.3),(92.5,21.1),(123,23.2),(124.3,21.1),(117.1,21.1),(115.8,19),(132.5,20.3),(131.6,17.6),(146.4,18.5),(152.6,18.1),(159.8,19.3),(161.8,19.6),(159.2,17),(182.9,19.9),(189.4,18.5),(88.6,17.9),(90.8,16.4),(108.3,17),(106.2,15.2),(123,18.7),(120.4,16.1),(123.7,15.5),(152,16.4),(150,14.6),(167.7,15.8),(171,15.8),(173.9,15.8),(183.5,17),(184.2,13.4),(195.4,15.5),(104.6,14.2),(112.2,14.2),(130.5,13.7),(130.9,11.6),(138.8,13.1),(141.7,12.6),(146.7,11.9),(176.5,13.4),(158.3,12.6),(90.8,12.6),(92.8,11.6),(125.9,11),(203.2,11.9),(207.8,11.3),(98.7,11),(93.8,8.7),(111.5,10.5),(115.1,9.6),(107.5,8.1),(159.6,9.9),(168.4,9),(144.7,8.3),(100.4,7.5),(214.4,8.1),(210.5,7.5),(139.1,7.9),(139.1,5.4),(152,6.3),(154.6,6.3),(158.1,7.5),(161.2,6.9),(163.8,6),(178.3,6.9),(184.4,7.5),(192.3,6.7),(209.2,5.1),(86.9,6.3),(89.5,3.9),(125.4,5.4),(145.4,4.5),(153.7,3.9),(168,3.7),(108.2,3.7),(132.9,3.9),(160.9,3.4),(204.8,4.5),(116.8,3),(192.7,3.4),(200.6,2.4),(198,0.8),(146,1.6),(131.6,1.6),(134.9,1.9),(188.1,0.8),(191.4,1.6),(97.4,1.8),(95,0),(113.8,1.6),(92.1,-0.5),(111.8,-0.2),(126.3,-0.2),(123.3,-2.6),(159.8,0.4),(151.3,0.4),(178.3,1),(175.6,0.4),(182.9,-2.3),(190.7,-2.3),(208.8,-2.2),(82.3,-2.8),(89.5,-3.1),(83.6,-5.5),(94.1,-3.7),(108.6,-3.5),(111.8,-2.6),(132.9,-2),(155.6,-2.9),(162.5,-2.6),(172.3,-2),(167.7,-4.3),(176.9,-3.5),(184.8,-4.3),(123,-4.9),(125.7,-6.7),(130.3,-5.9),(148,-4.9),(145.6,-6.7),(111.8,-6.1),(106.6,-6.1),(185.5,-6.7),(204.6,-6.1),(92.8,-7.9),(102.6,-8.5),(114.5,-8.5),(105.9,-9.7),(94.1,-9.1),(128.9,-9.1),(137.2,-7.9),(162.5,-6.1),(166.4,-8.5),(176.9,-7.9),(198,-9.1),(201.9,-9.4),(153.3,-9.4),(143.4,-9.1),(161.2,-10.2),(165.1,-9.1),(122.4,-9.9),(80.3,-10.8),(86.2,-10),(188.4,-11.1),(194,-10.8),(112.5,-11.4),(124.3,-12),(134.9,-11.4),(144.1,-11.4),(154.6,-12.6),(168.4,-12),(176.9,-11.8),(141.4,-13.2),(123,-12.6),(127,-14.4),(112.2,-13.8),(206.5,-13),(200,-13.8),(180,-14.6),(146.7,-14.4),(97,-15.6),(79.6,-16.2),(83.6,-16.2),(90.2,-16.2),(108.6,-15.6),(127,-16.2),(133.2,-15.6),(155.9,-15.6),(164.1,-15.6),(159.2,-16.8),(121.4,-16.2),(115.8,-16.5),(85.9,-18.5),(93.4,-18.5),(205.9,-17.7),(108.8,-17.9),(113.2,-18.5),(127.6,-17.9),(133.2,-18.5),(182.2,-19.1),(100.7,-20.3),(104.6,-20.7),(80.9,-20.9),(108.6,-20.9),(159.8,-19.9),(194.4,-19.7),(90.8,-21.7),(198.6,-22.1),(130.3,-22.7),(134.6,-22.1),(205.9,-22.7),(114.5,-24.1),(118.8,-24.2),(138.8,-24.4),(153.3,-24.1),(159.6,-24.4),(183.8,-24.2),(93.4,-25),(86.2,-25),(102.6,-25),(174.3,-25.6),(117.8,-26.8),(127.6,-26.2),(144.7,-27),(152,-26.8),(167.7,-26.2),(168.4,-29.2),(123.9,-26.8),(82.9,-27.2),(79.4,-28.8),(86.2,-27.4),(90.2,-28),(93.4,-28),(105.3,-26.8),(107.2,-28),(199.3,-27.2),(131.6,-28.6),(136.2,-28.8),(187.5,-28.6),(159.6,-29.5),(195.4,-30),(123.7,-29.8),(115.8,-29.5),(149.3,-30),(154.6,-30.4),(84.2,-31),(105.3,-31),(176.9,-31),(180.9,-31.5),(141.4,-32.4),(163.1,-32.7),(196,-32.7),(122.4,-33.9),(92.1,-32.7),(94.1,-33.9),(155.9,-32.7),(134.9,-33.9),(186.1,-33),(190.4,-33.6),(78.3,-35.1),(109.9,-33.3),(113.2,-32.7),(107.9,-35.1),(85.5,-35.7),(132.9,-36.3),(146,-35.7),(149.3,-36.3),(157.2,-35.4),(162.5,-36.3),(179.6,-35.7),(182.2,-35.1),(120.4,-35.7),(100.7,-36.9),(96.7,-38.6),(82.9,-38.6),(88.2,-39.2),(84.9,-40.4),(94.1,-38.6),(107.9,-38),(113.2,-38),(122.4,-37.5),(143.4,-38),(180.2,-39.8),(148,-39.8),(137.2,-39.5),(127.6,-39),(105.9,-39.8),(116.5,-40.4),(79.6,-36.9),(109.2,-40.4),(167.1,-41.8),(156.6,-43.4),(94.1,-42.8),(111.8,-42.8),(120.4,-42.8),(137.5,-42.8),(144.7,-41.6),(150,-41.6),(180.9,-42.2),(82.9,-42.2),(172.3,-43.7)]

pts_sw_upper = [(-222.6,10.7),(-223.7,7.5),(-221.7,3.9),(-209.6,6.3),(-213.2,3.9),(-209.6,2.7),(-214.1,0),(-213.8,-3.2),(-200.7,7.7),(-196.5,6.3),(-196.7,3.9),(-201.7,12.6),(-194.7,10.4),(-187.5,11),(-186.6,5.9),(-177.4,5.9),(-174.4,10.7),(-171.1,8.7),(-169.8,5.7),(-169.1,2.7),(-167.8,1),(-166.5,12.2),(-157,9.8),(-165.6,5.9),(-159.2,5.1),(-163.2,2.4),(-159.9,1.9),(-143.5,11.9),(-137.5,12.2),(-133.6,10.4),(-125.7,12.2),(-115.2,11),(-109.5,9.8),(-103.4,11),(-99.4,9.2),(-114.5,6.9),(-128.6,6.9),(-125.7,7.5),(-142.8,5.9),(-146.1,4.5),(-150.7,4.3),(-153.3,3.3),(-153.6,0.4),(-153.6,-3.8),(-147.8,0.4),(-147.8,-2.6),(-132.3,1.6),(-131.4,-0.8),(-124.4,1.6),(-119.8,0.4),(-117.2,3),(-103.4,3.9),(-94.8,4.3),(-107.3,1.6),(-98.8,1.6),(-100.1,-0.2),(-93.9,-1.4),(-179,1.6),(-174.4,0.4),(-179,-1.2),(-187.8,-0.4),(-184.6,-2),(-188.2,-2.6),(-174.4,-2.6),(-175.7,-5.5),(-126.4,-2),(-123.1,-2),(-113.2,-1.4),(-108.6,-2),(-105.3,-2),(-102.7,-3.8),(-116.5,-2.6),(-165.8,-3.8),(-158.8,-5),(-159.2,-7.3),(-165.8,-7.1),(-171.1,-6.7),(-200.4,-4.1),(-202.2,-5.9),(-200,-7.5),(-190.4,-7.3),(-186.6,-7.3),(-180.3,-6.7),(-181.2,-9.7),(-174.4,-7.9),(-208.6,-7.9),(-118.5,-5.5),(-115.2,-5.5),(-101.4,-7.9),(-116.5,-8.5),(-112.9,-7.9),(-109.5,-7.9),(-106.2,-9.4),(-132.3,-8.7),(-94.1,-9.7),(-161.6,-9.9),(-195.1,-10.9),(-182.3,-11.8),(-177.3,-12.3),(-174.4,-10.9),(-168.8,-10.9),(-207.6,-12.3),(-122.4,-10.9),(-94.5,-12.3),(-154,-13.2),(-148.1,-12.6),(-136.9,-13),(-212.5,-14.6),(-189.9,-14.4),(-180.5,-15.6),(-161.2,-14.6),(-158.6,-16.2),(-154.6,-15.6),(-152,-16.2),(-125.1,-13.2),(-123,-15),(-120.4,-15),(-111.9,-14.6),(-108.6,-13.8),(-106.2,-16.2),(-100.7,-14.4),(-94.5,-15.6),(-136.9,-15.6),(-129.7,-15.4),(-142.8,-16.2),(-115.9,-16.8),(-109.3,-16.8),(-203.3,-15.4),(-199.1,-16.8),(-187.8,-16.8),(-100.7,-18.2),(-91,-16.8),(-210.1,-18.6),(-204.9,-19.1),(-196.7,-19.7),(-187.5,-18.6),(-174.4,-18.2),(-166.5,-17.9),(-152.7,-17.4),(-143.5,-19.7),(-126.4,-19.1),(-117.8,-19.7),(-95.4,-19.1),(-89.3,-19.7),(-85.6,-19.7),(-122.4,-20.6),(-204,-21.5),(-163.6,-20.9),(-167.8,-21.5),(-154.6,-22.1),(-112.6,-21.3),(-108.6,-22.1),(-94.8,-21.5),(-127,-22.1),(-129.1,-23.9),(-126.4,-23.3),(-81.7,-21.5),(-188.2,-22.7),(-177.4,-22.7),(-122.4,-23.9),(-118.4,-25),(-104,-24.5),(-204.6,-23.9),(-198.3,-24.8),(-192.5,-24.5),(-194.8,-25),(-181.6,-24.5),(-163.8,-25),(-153.3,-25),(-149.4,-25),(-141.5,-25.3),(-143.5,-27.2),(-83.6,-24.5),(-89.5,-24.8),(-99.4,-25.7),(-204.6,-26.8),(-184.2,-26.8),(-175,-27.2),(-129.7,-28),(-83.6,-27.4),(-77.7,-28.6),(-205.9,-29.6),(-187.5,-28.6),(-170.4,-28),(-167.2,-29.2),(-198.3,-29.6),(-162.6,-30.4),(-157.3,-30),(-149.4,-29.2),(-123.7,-28.6),(-108,-28),(-94.1,-28),(-100.7,-29.2),(-113.2,-29.2),(-123.1,-30.4),(-171.1,-31.2),(-153.3,-31),(-97.1,-30.4),(-182.3,-31.9),(-114.5,-31.6),(-110.6,-31.6),(-123.1,-32.4),(-89.5,-31),(-81.7,-31.6),(-73.8,-31.6),(-100.7,-33.3),(-85.6,-32),(-155.9,-33.9),(-192.1,-34),(-186.6,-34),(-102.7,-33.9),(-109.9,-33.9),(-92.2,-34.5),(-80.1,-34.9),(-69.8,-34.5),(-86.3,-35.7),(-171.7,-35.9),(-165.8,-36.7),(-148.7,-35.1),(-144.6,-37.5),(-141.4,-38.3),(-138.9,-38.3),(-133.6,-37.1),(-131,-38.1),(-126.6,-36.9),(-155.9,-36.9),(-121.8,-37.5),(-118.4,-36.9),(-93.5,-37.5),(-96.2,-39.3),(-99.4,-38.1),(-110.6,-36.9),(-107.3,-38.7),(-192.8,-38.3),(-163.2,-38.3),(-157,-39),(-83.6,-38.7),(-67.3,-38.3),(-63.2,-38.3),(-71.8,-38.7)]

pts_sw_lower = [(-121.1,-40.4),(-116.5,-40.4),(-106,-41),(-74.4,-41),(-86.9,-40.4),(-192.1,-41),(-182.3,-40.4),(-170.4,-40.4),(-167.1,-40.4),(-151.4,-40.4),(-78.4,-42.2),(-57.3,-40.4),(-169.8,-42.2),(-101.4,-42.2),(-97.4,-41.6),(-93.5,-41),(-186.2,-42.8),(-167.1,-42.8),(-125.1,-42.6),(-112.6,-42.6),(-139.5,-43.4),(-134.9,-43.4),(-82.3,-42.6),(-66.5,-43.4),(-53.4,-43.4),(-60.6,-42.2),(-180.9,-44.2),(-153.3,-44.3),(-122.4,-44.9),(-116.5,-44.9),(-98.8,-44),(-87.6,-43.4),(-75.1,-44),(-56.7,-44.6),(-46.8,-45.2),(-157,-45.4),(-176.6,-46.4),(-134.9,-47),(-94.8,-45.8),(-83,-45.8),(-77,-46.4),(-50.8,-45.8),(-100.7,-48.1),(-98.1,-46.4),(-181.6,-47),(-165.2,-47.2),(-146.6,-47.9),(-128.3,-47.8),(-121.1,-48.7),(-83,-48.7),(-72.4,-48.1),(-62.6,-48.1),(-189.5,-47),(-191.5,-48.7),(-189.5,-50.3),(-161.2,-49.3),(-183.6,-49.9),(-169.8,-49.3),(-66.5,-49.9),(-110.6,-50.5),(-90.9,-50.5),(-52.1,-50.5),(-69.8,-51.7),(-171.1,-51.7),(-159.9,-51.7),(-153.1,-52.3),(-138.2,-51.7),(-129,-52.3),(-109.3,-53.4),(-104,-52.9),(-79,-51.7),(-85.6,-52.3),(-54.7,-51.7),(-57.3,-52.9),(-99.4,-54.6),(-95.5,-54.6),(-92.2,-54),(-87.6,-54),(-80.3,-54.6),(-54,-54),(-63.2,-54.6),(-167.1,-54),(-176.3,-55.2),(-142.8,-54.9),(-108.6,-55.8),(-103.4,-55.2),(-87.6,-57),(-77,-57),(-69.2,-56.4),(-61.3,-55.8),(-185.2,-56.4),(-177.7,-57),(-146.1,-56.6),(-74.4,-58.2),(-84.3,-58.2),(-157.7,-57.6),(-168.8,-58.2),(-142.1,-58.2),(-102,-58.8),(-123.3,-58.2),(-119.8,-59.6),(-111.9,-58.2),(-69.2,-58.8),(-65.9,-58.4),(-60,-58.4),(-183.6,-59.6),(-174.4,-60.3),(-96.1,-60),(-92.2,-61.5),(-109.3,-61.4),(-88.9,-60),(-60.6,-61.1),(-69.8,-61.1),(-154,-61.7),(-138.2,-62),(-129,-62.6),(-177.4,-63.5),(-169.1,-62.7),(-171.7,-63.5),(-98.8,-63.5),(-94.1,-62.3),(-61,-62.9),(-155.9,-64.1),(-139.5,-64.1),(-86.3,-63.5),(-77,-62.3),(-73.1,-63.5),(-121.1,-64.9),(-116.5,-65.3),(-158.6,-66.5),(-151.4,-65.3),(-147.8,-66.5),(-102,-65.9),(-82.3,-64.7),(-79,-65.3),(-94.1,-65.3),(-156.6,-68.2),(-152,-68.8),(-136.9,-68.6),(-131,-68.8),(-127,-67.6),(-124.4,-66.5),(-118.5,-67.6),(-114.5,-68.2),(-108.6,-68.6),(-106,-67.6),(-98.8,-69.1),(-89.5,-68.8),(-75.1,-66.5),(-68.5,-67.1),(-65.9,-67.9),(-81.7,-69.4),(-77,-70),(-146.1,-71.2),(-140.8,-69.4),(-92.8,-70.6),(-73.8,-70),(-164.9,-72.1),(-117.2,-71.8),(-94.8,-71.8),(-100.7,-73.6),(-140.8,-73),(-155.9,-73.6),(-117.2,-74.2),(-87.6,-74.2),(-85,-75.3),(-73.8,-74.5),(-157.9,-75.3),(-154,-76.2),(-93.5,-75.3),(-79,-75.9),(-167.1,-76.9),(-163.2,-76.2),(-138.9,-75.9),(-87.6,-76.5),(-159.2,-78.3),(-142.8,-77.5),(-132.3,-77.3),(-126.4,-78.3),(-97.4,-77.3),(-77.7,-78.9),(-102.4,-78.3),(-112.6,-77.7),(-109.9,-77.7),(-136.2,-78.9),(-117.8,-79.5),(-98.8,-80.7),(-129,-80.1),(-85.6,-80.7),(-119.8,-81.8),(-147.4,-82.4),(-141.5,-84),(-129.7,-82.4),(-83.6,-83.6),(-122.4,-83.6),(-105.3,-83),(-108.6,-84.2),(-102,-84.8),(-136.2,-84.8),(-117.8,-83.6),(-129.7,-85.4),(-90.2,-84.8),(-92.8,-86),(-112.6,-86),(-136.2,-86.6),(-85,-87.2),(-127,-88.3),(-130.3,-87.2),(-89.5,-88.3),(-109.9,-89),(-96.8,-88.3),(-119.8,-90.1),(-122.4,-91.3),(-138.9,-90.7),(-136.2,-91.9),(-130.7,-90.7),(-93.5,-91.9),(-124.4,-92.7),(-100.1,-91.9),(-117.2,-93.7),(-113.2,-92.5),(-103.4,-94.3),(-99.4,-94.9),(-113.2,-94.9),(-96.8,-93.7),(-129,-97.5),(-109.7,-98.1),(-105.3,-98.8),(-98.1,-99.3),(-118.2,-101.1),(-113.2,-101.7)]

pts_se = [(37.5,-45.2),(40.1,-45.2),(48,-42.9),(53.3,-41.1),(57.9,-43.4),(65.1,-32.8),(69.7,-28.6),(61.2,-35.2),(67.1,-31.6),(64.4,-32.8),(61.8,-39.1),(65.1,-42.3),(72.3,-35.8),(74.3,-24.5),(76.9,-20.4),(76.3,-39.3),(72.3,-42.3),(67.7,-38.1),(61.8,-45.8),(67.7,-47),(71.7,-47.3),(50.6,-49.4),(53.9,-48.8),(39.5,-48.2),(42.8,-48.8),(46,-47.6),(59.8,-48.2),(62.5,-48.8),(75.6,-46.4),(74.3,-43.4),(42.8,-52.9),(54.6,-50.5),(59.2,-53.5),(63.8,-51.7),(67.7,-51.7),(70.4,-52.3),(47.4,-55.3),(51.3,-54.1),(69,-55.3),(76.3,-55.3),(96.7,-46.4),(106.6,-49.4),(111.3,-50.8),(85.3,-49.4),(92.3,-50.8),(104.7,-47.4),(96.7,-48.8),(116,-52.5),(104.7,-55.1),(77.6,-52.5),(83.5,-50.8),(88.8,-51.7),(99.9,-52.1),(103,-52.1),(97.7,-47.6),(92.3,-45.2),(120,-51.5),(128.2,-51.9),(133.7,-50.1),(142.3,-49.4),(125.2,-47.4),(134.8,-45.6),(160.1,-46.4),(150.2,-46.4),(148.9,-45.9),(155.8,-45.7),(156.1,-54.1),(169,-50),(169.7,-47.6),(172.1,-44.9),(178.9,-49.9),(155.2,-51.1),(61,-58.5),(55.3,-60.6),(63.2,-56.5),(60.5,-61.8),(62.5,-58.8),(76.9,-61.2),(76.9,-58.2),(84.8,-56.5),(83.5,-59.4),(91.4,-55.9),(98.8,-54.7),(99.3,-58.2),(84.8,-54.9),(148.6,-54.5),(150.6,-57.6),(153.2,-54.7),(157.8,-54.1),(159.1,-56.5),(162.7,-52.9),(176.9,-54.7),(106.5,-58.2),(109.8,-60.1),(100.6,-60.6),(98,-61.2),(93.4,-61.8),(87.5,-62.4),(127,-58.2),(131.5,-57.6),(134.1,-60),(137.8,-57.4),(163.5,-58.2),(157.2,-59.2),(160.4,-61.8),(171,-58.2),(173.5,-60),(175.8,-61.4),(120.4,-61.4),(123.6,-60.6),(56.4,-64.1),(54.6,-65.3),(57.9,-66.5),(61.2,-67.1),(61.2,-68.9),(69,-61.8),(71.7,-63),(65.8,-65.3),(67.7,-67.7),(71.7,-66.5),(75.6,-66.5),(75.6,-69.5),(74.3,-68.9),(81.5,-66.5),(84.8,-65.3),(86.1,-68.9),(88.8,-67.7),(93.4,-64.7),(95.4,-67.7),(99.3,-67.1),(103,-63.5),(109.8,-62.8),(113.6,-63.2),(113.6,-65.3),(123.6,-64.8),(131.7,-64),(124.9,-63.2),(135.1,-66.2),(139.1,-66.2),(143.3,-65.1),(148.7,-64.2),(153.1,-66.5),(157.2,-66.5),(165,-63.5),(169.1,-66.2),(160.4,-66.2),(69,-72.4),(69.7,-70),(82.2,-71.2),(87.5,-70),(99.3,-72.4),(103.9,-70),(108.1,-69),(115.1,-70),(116.7,-72.7),(135.1,-70),(157.2,-70),(137.8,-69.9),(111.1,-73.7),(136.1,-73.6),(163.5,-72.2),(160.4,-74.2),(63.5,-73.6),(67.7,-76),(74.3,-75.4),(79.6,-73.6),(80.2,-77.2),(86.1,-73.6),(91.4,-75.4),(101.3,-74.2),(103,-77.2),(109.2,-74.8),(115.1,-75.1),(121.9,-75.4),(130.8,-75.4),(138.1,-77.4),(159.1,-76.6),(69.7,-78.2),(73,-80.1),(74.3,-77.8),(78.2,-77.2),(83.5,-77.2),(94.1,-78.4),(97.4,-79.2),(107.2,-79.5),(111.1,-80.1),(113.8,-77.8),(125.6,-79.5),(133.5,-79.5),(149.3,-79.5),(79.6,-82.5),(77.6,-84.8),(88.1,-82.5),(91.4,-81.3),(94.8,-81.9),(98,-85.4),(94.1,-84.8),(125,-84.2),(147.6,-83.9),(142.1,-83),(79.6,-86),(81.6,-86.6),(78.2,-88.4),(91.2,-86.6),(95.4,-87.2),(101.9,-86),(106.6,-86.6),(113.4,-86),(126.9,-87.2),(132.2,-86.6),(134.8,-85.4),(138.1,-85.4),(144.6,-85.4),(100.6,-89.6),(104.6,-89),(108.5,-89.6),(113.8,-90.8),(119.7,-89.8),(103.4,-93.1),(109.2,-93.1),(123.6,-93.7),(131.2,-93.6),(122,-94.1),(84.6,-95),(87.8,-97.5),(94.8,-96.7),(108.5,-96.7),(111.1,-96.1),(116.4,-97.9),(115.7,-99.7),(100.4,-100.2),(103.2,-101.4),(108.1,-101.4),(101,-103.8),(96.4,-104)]

regions = [pts_nw, pts_n, pts_ne_top, pts_ne, pts_w, pts_arch, pts_e_upper, pts_e_lower, pts_sw_upper, pts_sw_lower, pts_se]
xs = [p[0] for r in regions for p in r]
ys = [p[1] for r in regions for p in r]

# axis frame in figure pixels
X_LEFT, X_ARROW = 272, 1670
Y_BASE, Y_ARROW = 1450, 55
X_SCALE, Y_SCALE = 2.534, 2.8175
px = lambda v: v / FIG_W
py = lambda v: 1 - v / FIG_H

fig = go.Figure(go.Scatter(x=xs, y=ys, mode="markers", cliponaxis=False,
                           marker=dict(color=GREEN, size=11, line=dict(width=0))))

def arrow(points):
    return dict(type="path", xref="paper", yref="paper", fillcolor="black", line=dict(width=0),
                path="M " + " L ".join(f"{px(a)} {py(b)}" for a, b in points) + " Z")

def axis_stroke(x0, y0, x1, y1):
    return dict(type="line", xref="paper", yref="paper", x0=px(x0), y0=py(y0), x1=px(x1), y1=py(y1),
                line=dict(color="black", width=5))

shapes = [
    axis_stroke(273.5, 1452.5, 273.5, 98),
    axis_stroke(271, 1450, 1628, 1450),
    arrow([(273.5, 55), (293.5, 119), (273.5, 98), (253.5, 119)]),
    arrow([(1670, 1450), (1606, 1470), (1628, 1450), (1606, 1430)]),
]

annotations = []
for i, label in enumerate(x_tick_labels):
    annotations.append(dict(text=label, x=px((234 + 118.8 * i) * 1.0855), y=py(1407 * 1.0855),
                            xref="paper", yref="paper", showarrow=False, xanchor="center", yanchor="middle",
                            font=dict(family=FONT, size=58, color="black")))
for i, label in enumerate(y_tick_labels):
    annotations.append(dict(text=label, x=px(179), y=py((154 + 130.8 * i) * 1.0855),
                            xref="paper", yref="paper", showarrow=False, xanchor="center", yanchor="middle",
                            font=dict(family=FONT, size=58, color="black")))
annotations.append(dict(text="<i>x</i>/ mm", x=px(953), y=py(1616), xref="paper", yref="paper",
                        showarrow=False, xanchor="center", yanchor="middle",
                        font=dict(family=FONT, size=68, color="black")))
annotations.append(dict(text="<i>y</i>/ mm", x=px(95), y=py(751), xref="paper", yref="paper",
                        showarrow=False, xanchor="center", yanchor="middle", textangle=-90,
                        font=dict(family=FONT, size=68, color="black")))

axis_common = dict(showgrid=False, zeroline=False, showline=False,
                   ticks="inside", ticklen=13, tickwidth=1, tickcolor="#a8a8a8",
                   showticklabels=False, fixedrange=True)

fig.update_layout(
    width=FIG_W, height=FIG_H, autosize=False, showlegend=False,
    margin=dict(l=0, r=0, t=0, b=0), paper_bgcolor="white", plot_bgcolor="white",
    xaxis=dict(range=[-250, (X_ARROW - X_LEFT) / X_SCALE - 250],
               domain=[px(X_LEFT), px(X_ARROW)], tickvals=x_tick_vals, **axis_common),
    yaxis=dict(range=[-150, (Y_BASE - Y_ARROW) / Y_SCALE - 150],
               domain=[py(Y_BASE), py(Y_ARROW)], tickvals=y_tick_vals, **axis_common),
    shapes=shapes, annotations=annotations,
)

# The page's default body margin is removed; the y title is mirrored as in the reference scan.
POST = """
document.body.style.margin = '0';
var yTitle = Array.from(document.querySelectorAll('.annotation-text')).find(function (t) {
    return t.textContent.indexOf('y/') === 0;
});
if (yTitle) {
    var box = yTitle.getBBox();
    var mid = box.y + box.height / 2;
    yTitle.setAttribute('transform', 'translate(0,' + (2 * mid) + ') scale(1,-1)');
}
"""
fig.write_html("out.html", post_script=POST, config={"displayModeBar": False})
